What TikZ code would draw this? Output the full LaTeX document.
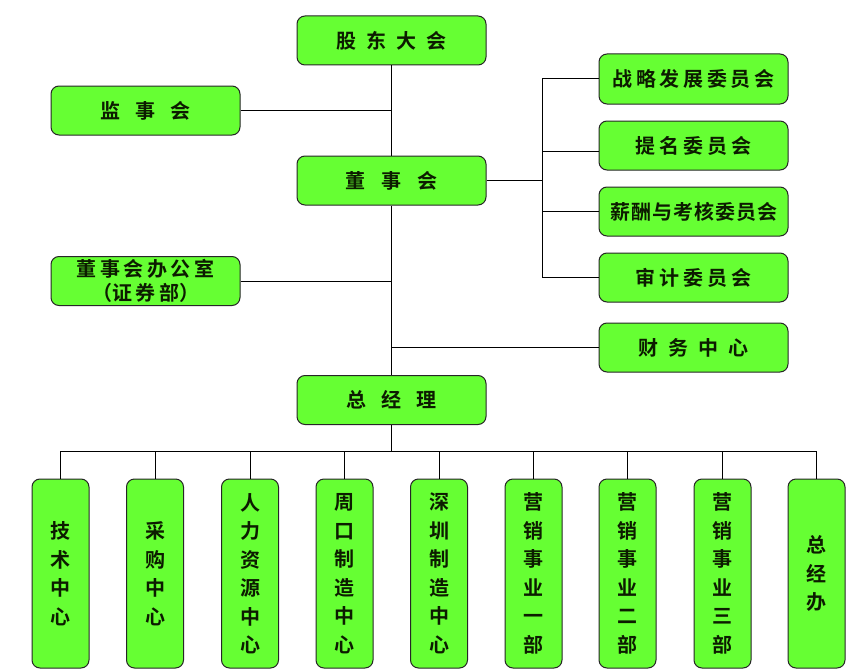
\documentclass[tikz,border=0pt]{standalone}
\usepackage{fontspec}
\newfontfamily\cjk{Noto Sans CJK SC}[BoldFont={Noto Sans CJK SC Bold}]
\definecolor{boxgreen}{RGB}{102,255,51}
\definecolor{txtc}{RGB}{12,28,0}
\newcommand\gp[1]{\hspace{#1pt}}
\tikzset{
  box/.style={draw=black!85, line width=1pt, fill=boxgreen, rounded corners=8pt,
    inner sep=0pt, text=txtc, align=center,
    font=\cjk\bfseries\fontsize{20}{24}\selectfont},
  hbox/.style={box, minimum width=189pt, minimum height=49pt},
  vbox/.style={box, minimum width=57pt, minimum height=189pt,
    font=\cjk\bfseries\fontsize{20}{28.5}\selectfont},
  conn/.style={draw=black, line width=1pt}
}
\begin{document}
\begin{tikzpicture}[x=1pt,y=-1pt]
\useasboundingbox[fill=white] (0,0) rectangle (846,669);
% upper boxes
\node[hbox] (gd)  at (391.5,40.5)  {股\gp{10}东\gp{10}大\gp{10}会};
\node[hbox] (jsh) at (145.5,110.5) {监\gp{15}事\gp{15}会};
\node[hbox] (dsh) at (391.5,180.5) {董\gp{16}事\gp{16}会};
\node[hbox] (bgs) at (145.5,281)   {董\gp{3.5}事\gp{3.5}会\gp{3.5}办\gp{3.5}公\gp{3.5}室\\（证\gp{3.5}券\gp{3.5}部）};
\node[hbox, minimum height=50pt] (zl) at (693.5,79) {战\gp{3.6}略\gp{3.6}发\gp{3.6}展\gp{3.6}委\gp{3.6}员\gp{3.6}会};
\node[hbox] (tm)  at (693.5,145.5) {提\gp{4}名\gp{4}委\gp{4}员\gp{4}会};
\node[hbox] (xc)  at (693.5,211.5) {薪\gp{1}酬\gp{1}与\gp{1}考\gp{1}核\gp{1}委\gp{1}员\gp{1}会};
\node[hbox] (sj)  at (693.5,277.5) {审\gp{4}计\gp{4}委\gp{4}员\gp{4}会};
\node[hbox] (cw)  at (693.5,347.5) {财\gp{10}务\gp{10}中\gp{10}心};
\node[hbox] (zjl) at (391.5,400)   {总\gp{15}经\gp{15}理};
% bottom boxes
\node[vbox] (b1) at (60.5,573.5)  {技\\术\\中\\心};
\node[vbox] (b2) at (155,573.5)   {采\\购\\中\\心};
\node[vbox] (b3) at (250,573.5)   {人\\力\\资\\源\\中\\心};
\node[vbox] (b4) at (344.5,573.5) {周\\口\\制\\造\\中\\心};
\node[vbox] (b5) at (439,573.5)   {深\\圳\\制\\造\\中\\心};
\node[vbox] (b6) at (533.5,573.5) {营\\销\\事\\业\\一\\部};
\node[vbox] (b7) at (627.5,573.5) {营\\销\\事\\业\\二\\部};
\node[vbox] (b8) at (722.5,573.5) {营\\销\\事\\业\\三\\部};
\node[vbox] (b9) at (816.5,573.5) {总\\经\\办};
% coordinates
\coordinate (br) at (542,180.5);
\coordinate (bus) at (391.5,451);
% connectors
\draw[conn] (gd.south) -- (dsh.north);
\draw[conn] (jsh.east) -- (gd.south |- jsh.east);
\draw[conn] (dsh.south) -- (zjl.north);
\draw[conn] (bgs.east) -- (dsh.south |- bgs.east);
\draw[conn] (cw.west) -- (dsh.south |- cw.west);
\draw[conn] (dsh.east) -- (br);
\draw[conn] (br |- zl.west) -- (br |- sj.west);
\draw[conn] (br |- zl.west) -- (zl.west);
\draw[conn] ([yshift=-5.5pt]br |- tm.west) -- ([yshift=-5.5pt]tm.west);
\draw[conn] (br |- xc.west) -- (xc.west);
\draw[conn] (br |- sj.west) -- (sj.west);
\draw[conn] (zjl.south) -- (bus);
\draw[conn] (b1.north |- bus) -- (b9.north |- bus);
\foreach \b in {b1,b2,b3,b4,b5,b6,b7,b8,b9}
  \draw[conn] (\b.north |- bus) -- (\b.north);
\end{tikzpicture}
\end{document}
